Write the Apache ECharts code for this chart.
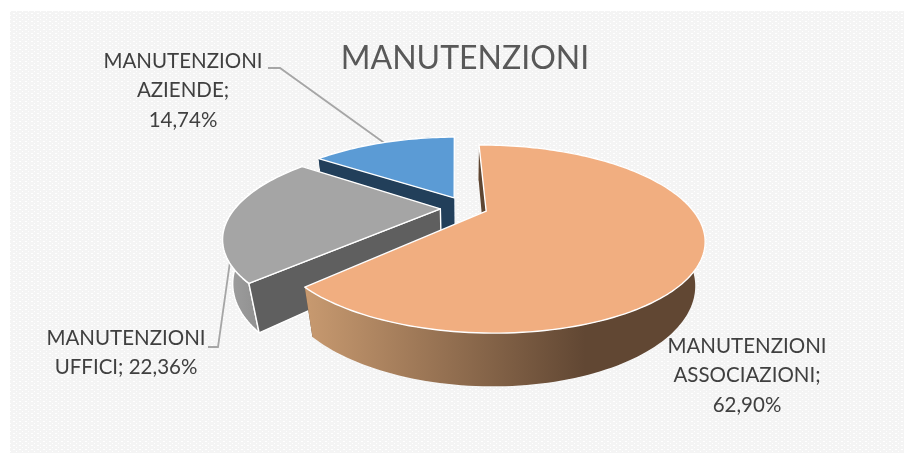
<!DOCTYPE html>
<html>
<head>
<meta charset="utf-8">
<style>html,body{margin:0;padding:0;background:#fff}#c{width:904px;height:453px}</style>
<script src="https://cdn.jsdelivr.net/npm/echarts@6/dist/echarts.min.js"></script>
</head>
<body>
<div id="c"></div>
<script>
// ---- data ----
const chartTitle = "MANUTENZIONI";
const categories = ["MANUTENZIONI ASSOCIAZIONI", "MANUTENZIONI UFFICI", "MANUTENZIONI AZIENDE"];
const values = [62.90, 22.36, 14.74];

// ---- label text layout (line groups) ----
const labelBreaks = [true, false, true];

// ---- styling ----
const topColors = ["#f1ae80", "#a5a5a5", "#5b9bd5"];
const radialStartColors = ["#5f4632", "#5f5f5f", "#223f5a"];
const radialEndColors = ["#5f4632", "#5f5f5f", "#cfe3f4"];
const wallStops = [
  [[0, "#c89a70"], [0.70, "#614733"], [1, "#614733"]],
  [[0, "#a0a0a0"], [1, "#7c7c7c"]],
  [[0, "#223f5a"], [1, "#223f5a"]]
];
const wallEdge = [null, "#ffffff", null];
const explode = [0.10, 0.13, 0.14];
const labelPos = [[747, 346], [126, 338], [183, 61]];
const leaderElbows = [null, [[218, 347], [208, 347]], [[280, 68], [268, 68]]];
const leaderInset = [1, 0.97, 1];

// ---- projection of the pie plane ----
const startAngle = -1;
const cx = 467, cy = 208, rx = 205, ry = 83.9, persp = 0.293, depth = 44, depthW = -0.039;
function project(u, v, t) {
  const w = 1 - persp * v - depthW * t;
  return [cx + rx * u / w, cy + (ry * v + depth * t) / w];
}
const total = values.reduce((a, b) => a + b, 0);
const spans = [];
values.reduce((acc, val) => {
  const end = acc + val / total * 360;
  spans.push([acc, end]);
  return end;
}, startAngle);
const rad = d => d * Math.PI / 180;

function renderSlice(params, api) {
  const i = api.value(0);
  const a0 = spans[i][0], a1 = spans[i][1], mid = (a0 + a1) / 2;
  const ou = explode[i] * Math.sin(rad(mid)), ov = -explode[i] * Math.cos(rad(mid));
  const rim = (a, t, k) => project(ou + (k || 1) * Math.sin(rad(a)), ov - (k || 1) * Math.cos(rad(a)), t);
  const arcTop = [], arcBot = [];
  for (let a = a0; a < a1; a += 1.5) { arcTop.push(rim(a, 0)); arcBot.push(rim(a, 1)); }
  arcTop.push(rim(a1, 0)); arcBot.push(rim(a1, 1));
  const apexT = project(ou, ov, 0), apexB = project(ou, ov, 1);
  const z = (2 - i) * 10 + 10;
  const kids = [];
  const poly = (points, fill, zz, stroke, lw) => kids.push({
    type: "polygon", z2: zz, silent: true,
    shape: { points },
    style: { fill, stroke: stroke || null, lineWidth: lw || 0, lineJoin: "round" }
  });
  poly([apexT, rim(a1, 0), rim(a1, 1), apexB], radialEndColors[i], z);
  poly(arcTop.concat(arcBot.slice().reverse()), {
    type: "linear", x: 0, y: 0, x2: 1, y2: 0,
    colorStops: wallStops[i].map(s => ({ offset: s[0], color: s[1] }))
  }, z + 1, wallEdge[i], 1.4);
  poly([apexT, rim(a0, 0), rim(a0, 1), apexB], radialStartColors[i], z + 2, wallEdge[i], 1.4);
  poly([apexT].concat(arcTop), topColors[i], z + 3, "#ffffff", 1.4);

  if (leaderElbows[i]) {
    kids.push({
      type: "polyline", z2: 1, silent: true,
      shape: { points: [rim(mid, 0, leaderInset[i])].concat(leaderElbows[i]) },
      style: { fill: null, stroke: "#a6a6a6", lineWidth: 1.8 }
    });
  }
  const words = categories[i].split(" ");
  const pct = values[i].toFixed(2).replace(".", ",") + "%";
  const lines = labelBreaks[i] ? [words[0], words[1] + ";", pct] : [words[0], words[1] + "; " + pct];
  lines.forEach((line, n) => kids.push({
    type: "text", z2: 100, silent: true,
    style: {
      text: line, x: labelPos[i][0], y: labelPos[i][1] + n * 29.5,
      fill: "#404040", font: "20.5px Lato, Carlito, sans-serif",
      align: "center", verticalAlign: "middle"
    }
  }));
  return { type: "group", children: kids };
}

// dotted panel pattern
const tile = document.createElement("canvas");
tile.width = 6; tile.height = 4;
const g = tile.getContext("2d");
g.fillStyle = "#f4f4f4"; g.fillRect(0, 0, 6, 4);
g.fillStyle = "#ffffff"; g.fillRect(1, 1, 2, 1); g.fillRect(4, 3, 1, 1);

const chart = echarts.init(document.getElementById("c"), null, { renderer: "canvas" });
chart.setOption({
  animation: false,
  backgroundColor: "#ffffff",
  title: {
    text: chartTitle, left: 460, top: 38, textAlign: "center",
    textStyle: { color: "#595959", fontSize: 32, fontWeight: "normal", fontFamily: "Lato, Carlito, sans-serif" }
  },
  graphic: [{
    type: "rect", z: -10, silent: true,
    shape: { x: 10, y: 11, width: 894, height: 442 },
    style: { fill: { image: tile, repeat: "repeat" } }
  }],
  series: [{
    type: "custom", coordinateSystem: "none", silent: true,
    renderItem: renderSlice,
    data: categories.map((c, i) => [i, values[i]])
  }]
});
</script>
</body>
</html>
